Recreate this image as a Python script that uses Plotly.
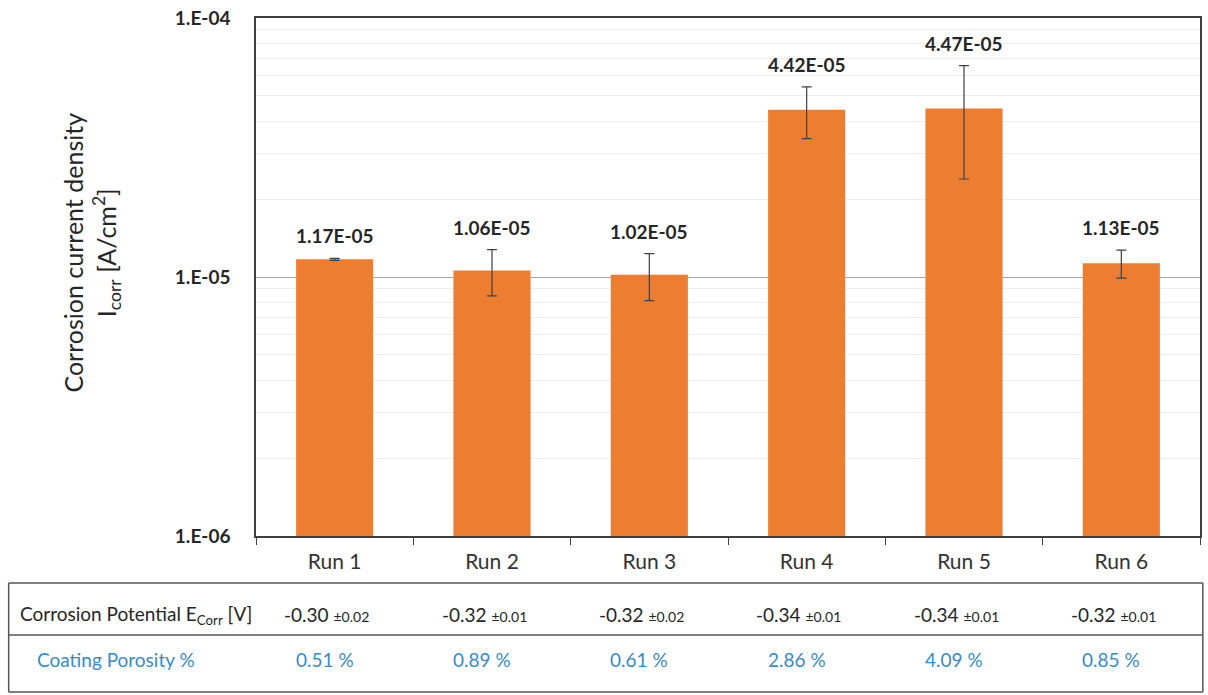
import math
import plotly.graph_objects as go

runs = ["Run 1", "Run 2", "Run 3", "Run 4", "Run 5", "Run 6"]
icorr = [1.17e-05, 1.06e-05, 1.02e-05, 4.42e-05, 4.47e-05, 1.13e-05]
icorr_err = [0.01e-05, 0.215e-05, 0.21e-05, 1.0e-05, 2.08e-05, 0.14e-05]
icorr_labels = ["1.17E-05", "1.06E-05", "1.02E-05", "4.42E-05", "4.47E-05", "1.13E-05"]
ecorr = ["-0.30", "-0.32", "-0.32", "-0.34", "-0.34", "-0.32"]
ecorr_err = ["0.02", "0.01", "0.02", "0.01", "0.01", "0.01"]
porosity = ["0.51 %", "0.89 %", "0.61 %", "2.86 %", "4.09 %", "0.85 %"]
ytick_vals = [1e-06, 1e-05, 1e-04]
ytick_text = ["1.E-06", "1.E-05", "1.E-04"]
minor_vals = [m * 1e-06 for m in range(2, 10)] + [m * 1e-05 for m in range(2, 10)]

FONT = "Lato, 'Open Sans', sans-serif"
ORANGE = "#ED7D31"
BLUE = "#3B8BC2"
DARK = "#262626"

fig = go.Figure()
fig.add_trace(go.Bar(
    x=runs, y=icorr,
    marker=dict(color=ORANGE, line=dict(width=0)),
    error_y=dict(type="data", array=icorr_err, color="#404040", thickness=1.2, width=5),
    width=0.49,
))

annotations = []
# data labels above error bars
for r, v, e, lab in zip(runs, icorr, icorr_err, icorr_labels):
    annotations.append(dict(
        x=r, y=math.log10(v + e), xref="x", yref="y",
        text="<b>%s</b>" % lab, showarrow=False, xanchor="center", yanchor="bottom", yshift=9,
        font=dict(size=19, color=DARK, family=FONT),
    ))

# table rows
ROW1_Y = -0.1525
ROW2_Y = -0.239
annotations.append(dict(
    x=-0.2526, y=ROW1_Y, xref="paper", yref="paper", xanchor="left", yanchor="middle",
    text="Corrosion Potential E<sub>Corr</sub> [V]", showarrow=False,
    font=dict(size=19, color=DARK, family=FONT),
))
annotations.append(dict(
    x=-0.2336, y=ROW2_Y, xref="paper", yref="paper", xanchor="left", yanchor="middle",
    text="Coating Porosity %", showarrow=False,
    font=dict(size=19, color=BLUE, family=FONT),
))
for r, e, ee, p in zip(runs, ecorr, ecorr_err, porosity):
    annotations.append(dict(
        x=r, y=ROW1_Y, xref="x", yref="paper", xanchor="center", yanchor="middle", xshift=-8,
        text="%s <span style='font-size:14px'>\u00b1%s</span>" % (e, ee), showarrow=False,
        font=dict(size=19, color=DARK, family=FONT),
    ))
    annotations.append(dict(
        x=r, y=ROW2_Y, xref="x", yref="paper", xanchor="center", yanchor="middle", xshift=-10,
        text=p, showarrow=False,
        font=dict(size=19, color=BLUE, family=FONT),
    ))

# y title
annotations.append(dict(
    x=-0.1744, y=0.548, xref="paper", yref="paper", textangle=-90,
    xanchor="center", yanchor="middle",
    text="Corrosion current density<br>I<sub>corr</sub> [A/cm<sup>2</sup>]", showarrow=False,
    font=dict(size=25, color=DARK, family=FONT),
))

shapes = []
# table box and separators
for y0 in [-0.0907, -0.191, -0.301]:
    shapes.append(dict(type="line", xref="paper", yref="paper", x0=-0.262, x1=1.003,
                       y0=y0, y1=y0, line=dict(color="#555555", width=1.5)))
for x0 in [-0.262, 1.003]:
    shapes.append(dict(type="line", xref="paper", yref="paper", x0=x0, x1=x0,
                       y0=-0.0907, y1=-0.301, line=dict(color="#555555", width=1.5)))

fig.update_layout(
    width=1208, height=695,
    margin=dict(l=256, r=6, t=18, b=159),
    paper_bgcolor="white", plot_bgcolor="white",
    showlegend=False,
    font=dict(family=FONT, color=DARK),
    annotations=annotations,
    shapes=shapes,
    xaxis=dict(
        showline=True, linecolor="#404040", linewidth=1.5, mirror=True,
        ticks="outside", tickson="boundaries", ticklen=7, tickcolor="#404040",
        tickfont=dict(size=21, color="#333333", family=FONT),
        ticklabelstandoff=6,
        showgrid=False,
    ),
    yaxis=dict(
        type="log", range=[-6, -4],
        tickvals=ytick_vals, ticktext=["<b>%s</b>" % t for t in ytick_text],
        tickfont=dict(size=19, color=DARK, family=FONT),
        ticks="", ticklen=0, ticklabelstandoff=20,
        showline=True, linecolor="#404040", linewidth=1.5, mirror=True,
        showgrid=True, gridcolor="#A6A6A6", gridwidth=1,
        minor=dict(tickvals=minor_vals, showgrid=True, gridcolor="#EDEDED", gridwidth=1, ticks=""),
        zeroline=False,
    ),
)

fig.write_html("out.html", config={"displayModeBar": False},
               post_script="document.body.style.margin='0';")
